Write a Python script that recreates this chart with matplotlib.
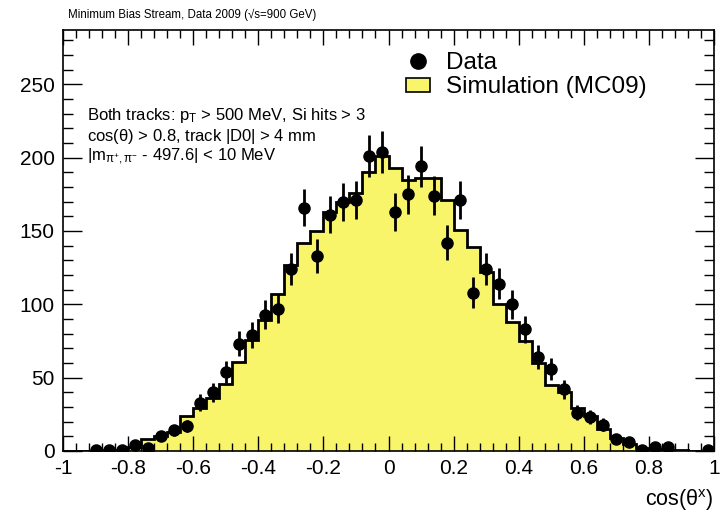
import numpy as np
import matplotlib
matplotlib.use('Agg')
import matplotlib.pyplot as plt
from matplotlib.lines import Line2D
from matplotlib.patches import Patch

plt.rcParams['font.family'] = ['Liberation Sans', 'DejaVu Sans']
plt.rcParams['mathtext.fontset'] = 'custom'
plt.rcParams['mathtext.rm'] = 'Liberation Sans'
plt.rcParams['mathtext.it'] = 'Liberation Sans:italic'

# 50 bins in cos(theta*) between -1 and 1
edges = np.linspace(-1, 1, 51)
centers = 0.5 * (edges[:-1] + edges[1:])

# Data counts per bin
data = [0, 0, 1, 1, 1, 4, 2, 10, 14, 17,
        33, 40, 54, 73, 79, 93, 97, 124, 166, 133,
        161, 170, 171, 201, 204, 163, 175, 194, 174, 142,
        171, 108, 124, 114, 100, 83, 64, 56, 42, 26,
        23, 18, 8, 6, 1, 3, 3, 0, 0, 1]

# MC09 simulation, normalised to data
mc = [0, 0.2, 0.3, 0.5, 1, 3, 8, 10.5, 13, 24,
      29, 36, 46, 61, 76, 89, 107, 127, 142, 150,
      163, 170, 176, 190, 201, 193, 185, 186, 186, 171,
      151, 139, 122, 100, 88, 75, 60, 45, 40, 29,
      24, 15, 9, 4.5, 2, 1.5, 1, 0.7, 0.3, 0.2]

xticks = [-1, -0.8, -0.6, -0.4, -0.2, 0, 0.2, 0.4, 0.6, 0.8, 1]
xticklabels = ['-1', '-0.8', '-0.6', '-0.4', '-0.2', '0', '0.2', '0.4', '0.6', '0.8', '1']
yticks = [0, 50, 100, 150, 200, 250]

data = np.array(data, dtype=float)
mc = np.array(mc)

fig = plt.figure(figsize=(7.26, 5.15), dpi=100)
ax = fig.add_axes([0.0868, 0.1243, 0.8967, 0.8174])

yellow = '#f9f56b'
ax.stairs(mc, edges, fill=True, color=yellow, zorder=1)
ax.stairs(mc, edges, color='black', lw=2, zorder=2)

mask = data > 0
ax.errorbar(centers[mask], data[mask], yerr=np.sqrt(data[mask]), fmt='o',
            color='black', ms=8, elinewidth=2, capsize=0, zorder=3)

ax.set_xlim(-1, 1)
ax.set_ylim(0, 287)
ax.set_xticks(xticks)
ax.set_xticklabels(xticklabels)
ax.set_xticks(np.arange(-1, 1.001, 0.04), minor=True)
ax.set_yticks(yticks)
ax.set_yticks(np.arange(0, 287, 10), minor=True)

ax.tick_params(which='both', direction='in', top=True, right=True,
               labelsize=15, width=1)
ax.tick_params(axis='x', which='major', length=11, pad=6)
ax.tick_params(axis='x', which='minor', length=5.5)
ax.tick_params(axis='y', which='major', length=14, pad=6)
ax.tick_params(axis='y', which='minor', length=7.5)
for s in ax.spines.values():
    s.set_linewidth(1.2)

ax.set_xlabel(r'cos($\mathregular{\theta^{x}}$)', fontsize=15.5)
ax.xaxis.set_label_coords(1.0, -0.086)
ax.xaxis.label.set_horizontalalignment('right')

fig.text(0.094, 0.972, 'Minimum Bias Stream, Data 2009 (\u221as=900 GeV)',
         fontsize=8.3, ha='left', va='center',
         family=['Liberation Sans Narrow', 'Liberation Sans', 'DejaVu Sans'])

ax.text(0.037, 0.797, r'Both tracks: p$\mathregular{_{T}}$ > 500 MeV, Si hits > 3',
        transform=ax.transAxes, fontsize=12, va='center')
ax.text(0.037, 0.748, r'cos($\mathregular{\theta}$) > 0.8, track |D0| > 4 mm',
        transform=ax.transAxes, fontsize=12, va='center')
ax.text(0.037, 0.699, r'|m$\mathregular{_{\pi^{+},\pi^{-}}}$ - 497.6| < 10 MeV',
        transform=ax.transAxes, fontsize=12, va='center')

handles = [Line2D([], [], marker='o', color='black', ls='none', ms=11),
           Patch(facecolor=yellow, edgecolor='black', lw=1.2)]
ax.legend(handles, ['Data', 'Simulation (MC09)'], loc='upper left',
          bbox_to_anchor=(0.512, 0.972), frameon=False, fontsize=17.5,
          handlelength=1.0, handleheight=0.55, handletextpad=0.65,
          labelspacing=0.12, borderaxespad=0)

fig.savefig('out.png', dpi=100)
